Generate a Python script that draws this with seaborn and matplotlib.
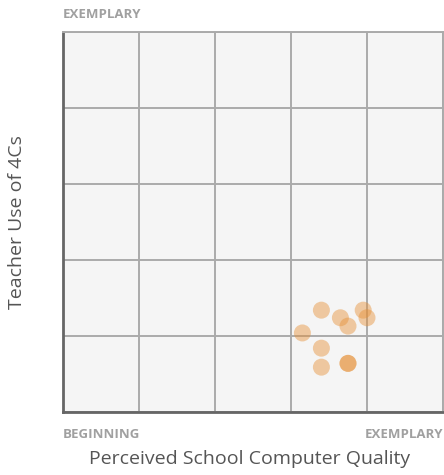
import matplotlib
matplotlib.use("Agg")
import matplotlib.pyplot as plt
import seaborn as sns
import pandas as pd

# perceived computer quality (x) vs teacher use of 4Cs (y), scale 0-5
quality = [3.40, 3.65, 3.75, 3.95, 4.00, 3.15, 3.40, 3.40, 3.75, 3.75]
teacher_use = [1.34, 1.24, 1.13, 1.34, 1.24, 1.04, 0.84, 0.59, 0.64, 0.64]

df = pd.DataFrame({"quality": quality, "teacher_use": teacher_use})

sns.set_style("white")
plt.rcParams["font.family"] = ["Open Sans", "DejaVu Sans"]

fig = plt.figure(figsize=(4.44, 4.75), dpi=100)
ax = fig.add_axes([63 / 444, 1 - 412 / 475, (443 - 63) / 444, (412 - 32) / 475])
ax.set_facecolor("#f5f5f5")

sns.scatterplot(data=df, x="quality", y="teacher_use", ax=ax,
                color="#e69138", alpha=0.45, s=150, edgecolor="none", zorder=3)

ax.set_xlim(0, 5)
ax.set_ylim(0, 5)
ax.set_xticks(range(6))
ax.set_yticks(range(6))
ax.grid(True, color="#aaaaaa", linewidth=1.4, zorder=0)
ax.set_axisbelow(True)
ax.tick_params(length=0, labelbottom=False, labelleft=False)
ax.set_xlabel("")
ax.set_ylabel("")

for side in ["top", "right"]:
    ax.spines[side].set_color("#aaaaaa")
    ax.spines[side].set_linewidth(1.4)
for side in ["left", "bottom"]:
    ax.spines[side].set_color("#666666")
    ax.spines[side].set_linewidth(2)

lab = dict(color="#a0a0a0", fontsize=9.5, fontweight="bold")
fig.text(63 / 444, 1 - 14 / 475, "EXEMPLARY", ha="left", va="center", **lab)
fig.text(63 / 444, 1 - 435 / 475, "BEGINNING", ha="left", va="center", **lab)
fig.text(443 / 444, 1 - 435 / 475, "EXEMPLARY", ha="right", va="center", **lab)

fig.text(250 / 444, 1 - 459 / 475, "Perceived School Computer Quality",
         ha="center", va="center", color="#555555", fontsize=14)
fig.text(17 / 444, 1 - 222 / 475, "Teacher Use of 4Cs", rotation=90,
         ha="center", va="center", color="#555555", fontsize=14)

fig.savefig("out.png", dpi=100)
